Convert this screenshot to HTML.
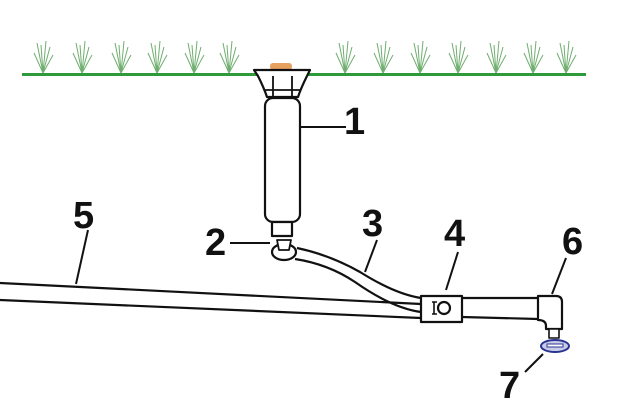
<!DOCTYPE html>
<html><head><style>
html,body{margin:0;padding:0;background:#fff;}
svg{display:block}
text{font-family:"Liberation Sans",sans-serif;font-weight:bold;font-size:38px;fill:#111}
</style></head><body>
<svg width="619" height="403" viewBox="0 0 619 403">
<g stroke="#6fae6f" stroke-width="1" fill="none">
<!-- grass tufts -->
<g id="t"><path d="M0 0 L-6 -30 M0 0 L-2 -28 M0 0 L3 -32 M0 0 L7 -26 M0 0 L-9 -20 M0 0 L10 -18"/></g>
<use href="#t" x="43" y="73"/><use href="#t" x="82" y="73"/><use href="#t" x="121" y="73"/>
<use href="#t" x="157" y="73"/><use href="#t" x="194" y="73"/><use href="#t" x="229" y="73"/>
<use href="#t" x="345" y="73"/><use href="#t" x="383" y="73"/><use href="#t" x="420" y="73"/>
<use href="#t" x="458" y="73"/><use href="#t" x="496" y="73"/><use href="#t" x="533" y="73"/><use href="#t" x="566" y="73"/>
</g>
<line x1="22" y1="74.5" x2="586" y2="74.5" stroke="#2e9a3a" stroke-width="3"/>
<g stroke="#111" stroke-width="2.2" fill="#fff" stroke-linejoin="round">
<!-- sprinkler head -->
<rect x="270" y="63" width="22" height="7" rx="3" fill="#e6a060" stroke="none"/>
<path d="M254 70 L310 70 L307 76 Q301 88 298 97 L267 97 Q264 88 258 76 Z"/>
<path d="M273 76 L273 96 M292 76 L292 96 M265 90 L300 90" fill="none" stroke-width="1.8"/>
<rect x="265" y="98" width="35" height="124" rx="8"/>
<rect x="272" y="222" width="20" height="14"/>
<!-- pipe 5 -->
<path d="M0 283 L421 304 M0 300 L421 318" fill="none"/>
<!-- hose 3 -->
<path d="M297 248 Q330 255 360 272 Q395 294 421 298" fill="none"/>
<path d="M295 259 Q328 264 355 282 Q392 308 421 312" fill="none"/>
<ellipse cx="284" cy="252" rx="12" ry="8"/>
<path d="M277 240 L291 240 L289 250 L279 250 Z" stroke-width="1.8"/>
<!-- tee -->
<rect x="421" y="296" width="41" height="26"/>
<circle cx="444" cy="308" r="6"/>
<path d="M432 302 L437 302 M432 314 L437 314 M434 302 L434 314" fill="none" stroke-width="1.6"/>
<!-- right pipe -->
<path d="M462 298 L538 298 M462 317 L538 319" fill="none"/>
<path d="M538 296 L556 296 Q562 296 562 302 L562 329 L546 329 L546 326 Q546 320 538 320 Z"/>
<rect x="549" y="329" width="10" height="9" stroke-width="1.6"/>
</g>
<ellipse cx="555" cy="346" rx="14" ry="6" fill="#c8cce8" stroke="#2a3490" stroke-width="2"/>
<rect x="547" y="344" width="16" height="3" fill="#fff" stroke="#2a3490" stroke-width="1"/>
<!-- leaders -->
<g stroke="#111" stroke-width="2">
<line x1="301" y1="127" x2="346" y2="127"/>
<line x1="230" y1="243" x2="270" y2="243"/>
<line x1="88" y1="230" x2="76" y2="284"/>
<line x1="377" y1="240" x2="365" y2="272"/>
<line x1="458" y1="252" x2="446" y2="290"/>
<line x1="566" y1="258" x2="552" y2="294"/>
<line x1="525" y1="372" x2="543" y2="354"/>
</g>
<text x="344" y="134">1</text>
<text x="205" y="255">2</text>
<text x="362" y="236">3</text>
<text x="444" y="246">4</text>
<text x="73" y="228">5</text>
<text x="562" y="254">6</text>
<text x="499" y="398">7</text>
</svg>
</body></html>
